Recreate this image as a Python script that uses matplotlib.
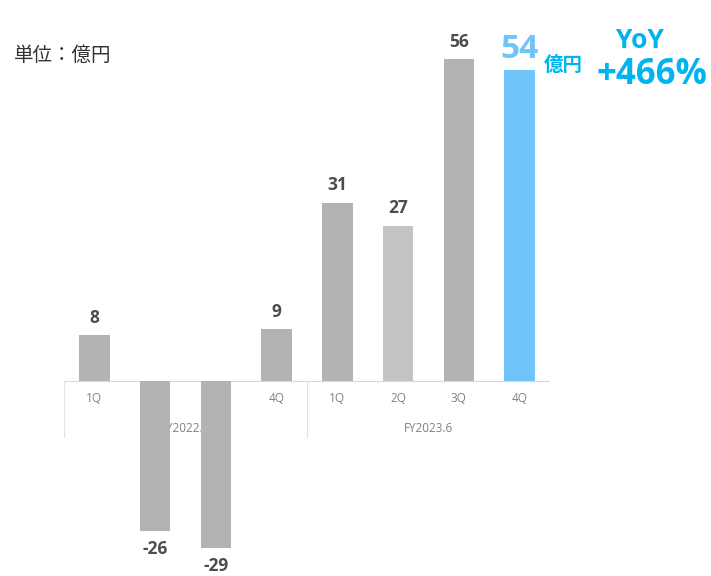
import matplotlib.pyplot as plt

# data
quarters = ["1Q", "2Q", "3Q", "4Q", "1Q", "2Q", "3Q", "4Q"]
fiscal_years = ["FY2022.6", "FY2023.6"]
values = [8, -26, -29, 9, 31, 27, 56, 54]
bar_colors = ["#b3b3b3", "#b3b3b3", "#b3b3b3", "#b3b3b3",
              "#b3b3b3", "#c3c3c3", "#b3b3b3", "#70c5f8"]
yoy_text = "+466%"

plt.rcParams['font.family'] = ['Open Sans', 'Noto Sans CJK JP', 'DejaVu Sans']

fig = plt.figure(figsize=(7.11, 5.76), dpi=100)
ax = fig.add_axes([64 / 711, 0, 486 / 711, 1])
ax.set_xlim(-0.5, 7.5)
ax.set_ylim(-33.91, 66.26)
ax.axis("off")

x = range(len(values))
ax.bar(x, values, width=0.5, color=bar_colors, zorder=2)

# value labels
for i, v in enumerate(values[:-1]):
    if v >= 0:
        ax.annotate(str(v), (i, v), xytext=(0, 6), textcoords="offset points",
                    ha="center", va="bottom", fontsize=12.5, fontweight="bold",
                    color="#4d4d4d")
    else:
        ax.annotate(str(v), (i, v), xytext=(0, -7), textcoords="offset points",
                    ha="center", va="top", fontsize=12.5, fontweight="bold",
                    color="#4d4d4d")
ax.annotate(str(values[-1]), (7, values[-1]), xytext=(0, 3), textcoords="offset points",
            ha="center", va="bottom", fontsize=24, fontweight="bold",
            color="#70c5f8")

# category table under the axis
px = 1 / 5.75  # data units per pixel
ax.plot([-0.5, 7.5], [0, 0], color="#d9d9d9", lw=0.8, zorder=1)
for xv in [-0.5, 3.5, 7.5]:
    ax.plot([xv, xv], [0, -56 * px], color="#e3e3e3", lw=0.8, zorder=1)
for i, q in enumerate(quarters):
    ax.text(i, -17 * px, q, ha="center", va="center", fontsize=8.5,
            color="#808080", zorder=1)
for j, fy in enumerate(fiscal_years):
    ax.text(1.5 + 4 * j, -47 * px, fy, ha="center", va="center", fontsize=8.5,
            color="#808080", zorder=1)

# annotations in figure pixels
fig.text(14 / 711, 1 - 56 / 576, "単位：億円", ha="left", va="center",
         fontsize=14, color="#333333")
fig.text(563 / 711, 1 - 66 / 576, "億円", ha="center", va="center",
         fontsize=14, fontweight="bold", color="#00b4f0")
fig.text(640 / 711, 1 - 40 / 576, "YoY", ha="center", va="center",
         fontsize=19, fontweight="bold", color="#00b4f0")
fig.text(652 / 711, 1 - 75 / 576, yoy_text, ha="center", va="center",
         fontsize=25, fontweight="bold", color="#00b4f0")

fig.savefig("out.png", dpi=100)
